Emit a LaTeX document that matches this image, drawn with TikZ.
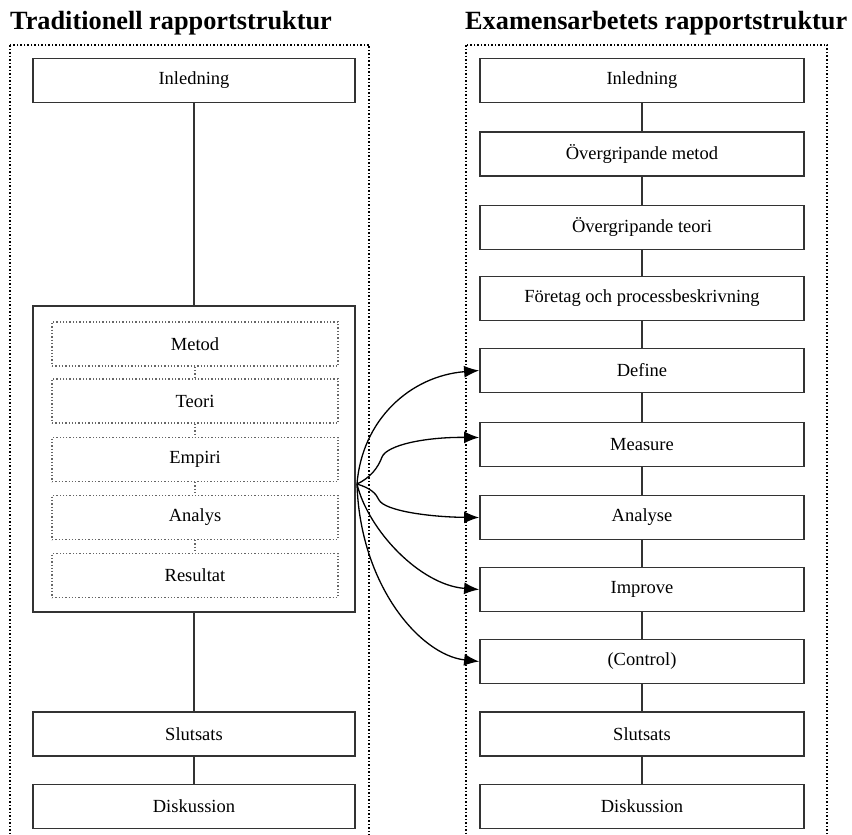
\documentclass[tikz,border=0pt]{standalone}
\usepackage{fontspec}
\setmainfont{Liberation Serif}
\usetikzlibrary{arrows.meta,calc}
\begin{document}
\begin{tikzpicture}[x=1pt,y=-1pt,
  box/.style={draw=black!80, line width=1.8pt, fill=white, minimum height=44pt, inner sep=0pt, font=\fontsize{18.5}{18.5}\selectfont},
  lbox/.style={box, minimum width=322pt},
  rbox/.style={box, minimum width=324pt},
  ibox/.style={draw=black!60, dotted, line width=1.3pt, minimum width=286pt, minimum height=44pt, inner sep=0pt, font=\fontsize{18.5}{18.5}\selectfont},
  frame/.style={draw=black, dotted, line width=1.5pt},
  link/.style={draw=black!80, line width=1.8pt},
  ilink/.style={draw=black!60, dotted, line width=1.3pt},
  flow/.style={draw=black, line width=1.3pt, -{Latex[length=15pt,width=12pt]}},
  title/.style={anchor=base west, inner sep=0pt, font=\fontsize{26.3}{26.3}\selectfont\bfseries}
]
\useasboundingbox (0,0) rectangle (852,835);
% titles
\node[title] (t1) at (10,29) {Traditionell rapportstruktur};
\node[title] (t2) at (465,29) {Examensarbetets rapportstruktur};
% frames
\draw[frame] (10,45) rectangle (369,840);
\draw[frame] (466,45) rectangle (827,840);
% left column
\node[lbox] (linl) at (194,80.5) {Inledning};
\node[lbox, minimum height=306pt] (big) at (194,459) {};
\node[ibox] (met) at (195,344) {Metod};
\node[ibox] (teo) at (195,401) {Teori};
\node[ibox] (emp) at (195,459.5) {Empiri};
\node[ibox] (anl) at (195,517.5) {Analys};
\node[ibox] (res) at (195,575.5) {Resultat};
\node[lbox] (lslu) at (194,734) {Slutsats};
\node[lbox] (ldis) at (194,806.5) {Diskussion};
\draw[link] (linl) -- (big);
\draw[link] (big) -- (lslu);
\draw[link] (lslu) -- (ldis);
\draw[ilink] (met) -- (teo);
\draw[ilink] (teo) -- (emp);
\draw[ilink] (emp) -- (anl);
\draw[ilink] (anl) -- (res);
% right column
\node[rbox] (rinl) at (642,80.5) {Inledning};
\node[rbox] (ovm) at (642,154) {Övergripande metod};
\node[rbox] (ovt) at (642,227.5) {Övergripande teori};
\node[rbox] (for) at (642,298.5) {Företag och processbeskrivning};
\node[rbox] (def) at (642,370.5) {Define};
\node[rbox] (mea) at (642,444.5) {Measure};
\node[rbox] (ana) at (642,517.5) {Analyse};
\node[rbox] (imp) at (642,589.5) {Improve};
\node[rbox] (con) at (642,661.5) {(Control)};
\node[rbox] (rslu) at (642,734) {Slutsats};
\node[rbox] (rdis) at (642,806.5) {Diskussion};
\draw[link] (rinl) -- (ovm);
\draw[link] (ovm) -- (ovt);
\draw[link] (ovt) -- (for);
\draw[link] (for) -- (def);
\draw[link] (def) -- (mea);
\draw[link] (mea) -- (ana);
\draw[link] (ana) -- (imp);
\draw[link] (imp) -- (con);
\draw[link] (con) -- (rslu);
\draw[link] (rslu) -- (rdis);
% curved arrows
\coordinate (src) at (357,484);
\draw[flow] (src) .. controls (362,420) and (410,376) .. (def.west);
\draw[flow] (src) .. controls (370,478) and (378,468) .. (382,457) .. controls (387,445) and (425,437) .. ($(mea.west)+(0,-7)$);
\draw[flow] (src) .. controls (370,488) and (376,493) .. (379,500) .. controls (385,511) and (430,517) .. (ana.west);
\draw[flow] (src) .. controls (368,530) and (420,585) .. (imp.west);
\draw[flow] (src) .. controls (360,585) and (420,655) .. (con.west);
\end{tikzpicture}
\end{document}
